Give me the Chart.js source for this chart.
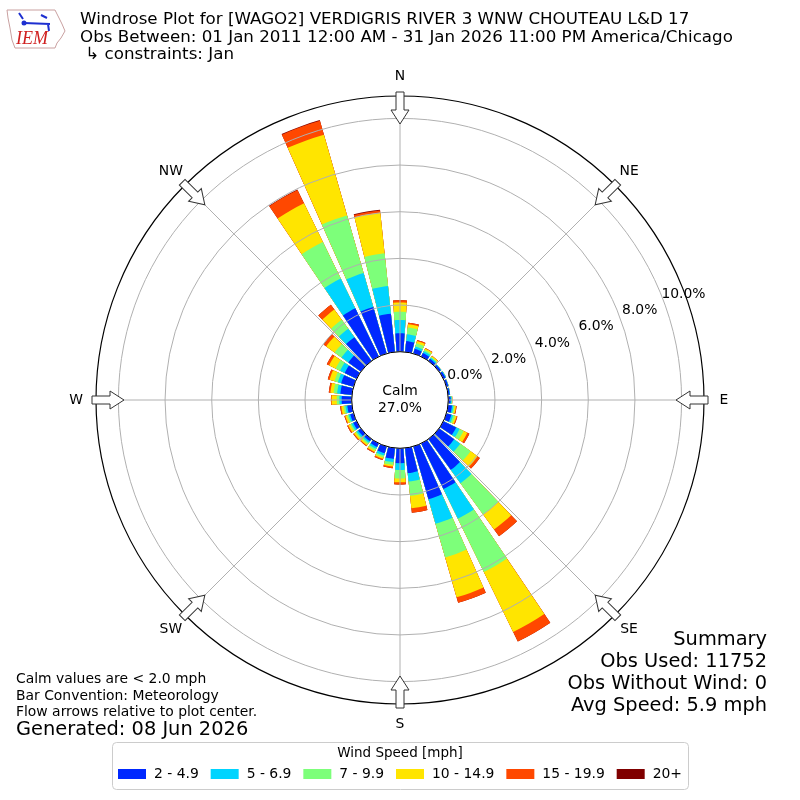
<!DOCTYPE html>
<html>
<head>
<meta charset="utf-8">
<title>Windrose WAGO2</title>
<script src="https://cdn.jsdelivr.net/npm/chart.js@4.4.1/dist/chart.umd.min.js"></script>
<style>
  body { margin: 0; background: #fff; }
  canvas { display: block; }
</style>
</head>
<body>
<canvas id="myChart" width="800" height="800"></canvas>
<script>
// bar directions, degrees from north (meteorology convention)
const directions = [0,10,20,30,40,50,60,70,80,90,100,110,120,130,140,150,160,170,
                    180,190,200,210,220,230,240,250,260,270,280,290,300,310,320,330,340,350];
const compassLabels = ['N','NE','E','SE','S','SW','W','NW'];
const speedBins = ['2 - 4.9','5 - 6.9','7 - 9.9','10 - 14.9','15 - 19.9','20+'];

// percent of observations per direction and speed bin
const speed2to5 = [0.79,0.47,0.21,0.17,0.11,0.09,0.10,0.08,0.07,0.10,0.17,0.22,0.61,0.80,1.63,2.18,2.35,1.08,
                   0.64,0.47,0.30,0.17,0.12,0.15,0.16,0.15,0.20,0.43,0.50,0.55,0.57,0.67,1.26,2.30,2.08,1.65];
const speed5to7 = [0.57,0.29,0.10,0.09,0.06,0.03,0.03,0.02,0.02,0.04,0.06,0.08,0.16,0.32,0.71,1.41,1.10,0.36,
                   0.29,0.14,0.10,0.09,0.08,0.08,0.08,0.07,0.08,0.10,0.14,0.15,0.22,0.36,0.44,1.42,1.51,1.19];
const speed7to10 = [0.35,0.29,0.15,0.07,0.04,0,0,0,0,0.02,0.05,0.08,0.19,0.55,1.65,2.54,1.50,0.62,
                    0.36,0.12,0.09,0.08,0.07,0.06,0.07,0.07,0.08,0.11,0.15,0.15,0.21,0.36,0.48,1.75,2.57,1.41];
const speed10to15 = [0.40,0.14,0.10,0.06,0.05,0,0,0,0,0.01,0.06,0.07,0.18,0.37,0.80,2.86,1.78,0.54,
                     0.17,0.07,0.06,0.07,0.07,0.08,0.09,0.08,0.10,0.22,0.14,0.22,0.31,0.45,0.54,1.84,3.60,1.75];
const speed15to20 = [0.10,0.07,0.05,0.02,0.01,0,0,0,0,0,0.03,0.04,0.10,0.12,0.36,0.46,0.24,0.19,
                     0.09,0.07,0.06,0.05,0.04,0.04,0.05,0.04,0.05,0.03,0.07,0.08,0.11,0.14,0.25,0.64,0.62,0.10];
const speed20up = [0,0,0,0,0,0,0,0,0,0,0,0,0,0,0,0,0,0,
                   0,0,0,0,0,0,0,0,0,0,0,0,0,0,0,0.02,0.03,0.03];

const ringTicks = [0,2,4,6,8,10];
const calmPct = 27.0;

const binColors = ['#0028ff','#00d4ff','#7dff7a','#ffe500','#ff4800','#800000'];
const rMin = -2.07;
const rMax = 10.96;

// each direction gets a wedge of 80% of its sector, north is split across the start
const step = 360 / directions.length;
const opening = 0.8;
let entryDir = [0];
let entryAngle = [step*opening/2];
for (let d = 1; d < directions.length; d++) {
    entryDir.push(-1, d);
    entryAngle.push(step*(1-opening), step*opening);
}
entryDir.push(-1, 0);
entryAngle.push(step*(1-opening), step*opening/2);

const bins = [speed2to5, speed5to7, speed7to10, speed10to15, speed15to20, speed20up];
let datasets = [];
let running = directions.map(() => 0);
for (let b = 0; b < bins.length; b++) {
    running = running.map((v, d) => v + bins[b][d]);
    const cum = running.slice();
    datasets.push({
        label: speedBins[b],
        data: entryDir.map(d => d < 0 ? rMin : cum[d]),
        backgroundColor: binColors[b],
        borderWidth: 0,
        angle: (c) => entryAngle[c.dataIndex]
    });
}

function txt(ctx, s, x, y, size, align, color, family, style){
    ctx.font = (style ? style + ' ' : '') + size + 'px ' + (family || '"DejaVu Sans"');
    ctx.textAlign = align || 'left';
    ctx.textBaseline = 'middle';
    ctx.fillStyle = color || '#000';
    ctx.fillText(s, x, y);
}

const decor = {
    id: 'decor',
    afterDraw(chart){
        const ctx = chart.ctx;
        const r = chart.scales.r;
        const R = r.drawingArea;
        const xc = r.xCenter, yc = r.yCenter;
        ctx.save();

        // calm circle
        const cr = r.getDistanceFromCenterForValue(0);
        ctx.beginPath();
        ctx.arc(xc, yc, cr, 0, Math.PI*2);
        ctx.fillStyle = '#fff';
        ctx.fill();
        ctx.lineWidth = 1;
        ctx.strokeStyle = '#000';
        ctx.stroke();
        txt(ctx, 'Calm', xc, yc - 9, 13.9, 'center');
        txt(ctx, calmPct.toFixed(1) + '%', xc, yc + 8, 13.9, 'center');

        // ring labels
        const a = (69.5 - 90) * Math.PI / 180;
        ringTicks.forEach(v => {
            const d = r.getDistanceFromCenterForValue(v) + 21;
            txt(ctx, v.toFixed(1) + '%', xc + d*Math.cos(a), yc + d*Math.sin(a), 13.9, 'center');
        });

        // flow arrows and compass labels
        compassLabels.forEach((lab, i) => {
            const p = r.getPointPosition(i, R);
            ctx.save();
            ctx.translate(xc, yc);
            ctx.rotate(p.angle);
            ctx.beginPath();
            ctx.moveTo(R + 4, -4);
            ctx.lineTo(R - 14, -4);
            ctx.lineTo(R - 14, -9);
            ctx.lineTo(R - 28, 0);
            ctx.lineTo(R - 14, 9);
            ctx.lineTo(R - 14, 4);
            ctx.lineTo(R + 4, 4);
            ctx.closePath();
            ctx.fillStyle = '#fff';
            ctx.fill();
            ctx.lineWidth = 1;
            ctx.strokeStyle = '#333';
            ctx.stroke();
            ctx.restore();
            const q = r.getPointPosition(i, R + 20);
            txt(ctx, lab, q.x, q.y, 13.9, 'center');
        });

        // header
        txt(ctx, 'Windrose Plot for [WAGO2] VERDIGRIS RIVER 3 WNW CHOUTEAU L&D 17', 80, 20, 16.7);
        txt(ctx, 'Obs Between: 01 Jan 2011 12:00 AM - 31 Jan 2026 11:00 PM America/Chicago', 80, 37.5, 16.7);
        txt(ctx, ' \u21B3 constraints: Jan', 80, 55, 16.7);

        // logo
        ctx.beginPath();
        ctx.moveTo(7, 10); ctx.lineTo(55, 10); ctx.lineTo(58, 16); ctx.lineTo(62, 24);
        ctx.lineTo(65, 31); ctx.lineTo(61, 38); ctx.lineTo(57, 43); ctx.lineTo(55, 48);
        ctx.lineTo(15, 48); ctx.lineTo(12, 40); ctx.lineTo(10, 28); ctx.lineTo(8, 18);
        ctx.closePath();
        ctx.lineWidth = 1;
        ctx.strokeStyle = '#c9a0a0';
        ctx.stroke();
        ctx.strokeStyle = '#1d2fd0';
        ctx.lineWidth = 2;
        ctx.beginPath();
        ctx.moveTo(24, 23); ctx.lineTo(50, 24);
        ctx.moveTo(19, 13); ctx.lineTo(23, 19);
        ctx.moveTo(41, 15); ctx.lineTo(47, 18);
        ctx.moveTo(48, 24); ctx.lineTo(49, 31);
        ctx.stroke();
        ctx.fillStyle = '#1d2fd0';
        ctx.beginPath(); ctx.arc(24, 23, 2.5, 0, Math.PI*2); ctx.fill();
        txt(ctx, 'IEM', 16, 39, 18, 'left', '#d02020', '"Liberation Serif"', 'italic');

        // notes
        txt(ctx, 'Calm values are < 2.0 mph', 16, 679, 13.9);
        txt(ctx, 'Bar Convention: Meteorology', 16, 696, 13.9);
        txt(ctx, 'Flow arrows relative to plot center.', 16, 712, 13.9);
        txt(ctx, 'Generated: 08 Jun 2026', 16, 730, 19.4);

        txt(ctx, 'Summary', 767, 640, 19.4, 'right');
        txt(ctx, 'Obs Used: 11752', 767, 662, 19.4, 'right');
        txt(ctx, 'Obs Without Wind: 0', 767, 684, 19.4, 'right');
        txt(ctx, 'Avg Speed: 5.9 mph', 767, 706, 19.4, 'right');

        // legend
        const lx = 112, ly = 742, lw = 576, lh = 47;
        ctx.beginPath();
        ctx.roundRect(lx + 0.5, ly + 0.5, lw, lh, 4);
        ctx.fillStyle = 'rgba(255,255,255,0.8)';
        ctx.fill();
        ctx.strokeStyle = '#cccccc';
        ctx.lineWidth = 1;
        ctx.stroke();
        txt(ctx, 'Wind Speed [mph]', lx + lw/2, ly + 11, 13.5, 'center');
        ctx.font = '13.9px "DejaVu Sans"';
        const ds = chart.data.datasets;
        const widths = ds.map(d => 28 + 8 + ctx.measureText(d.label).width);
        const total = widths.reduce((s, w) => s + w, 0);
        const gap = (lw - 12 - total) / (ds.length - 1);
        let x = lx + 6;
        ds.forEach((d, i) => {
            ctx.fillStyle = d.backgroundColor;
            ctx.fillRect(x, ly + 27, 28, 10);
            txt(ctx, d.label, x + 36, ly + 32.5, 13.9);
            x += widths[i] + gap;
        });
        ctx.restore();
    }
};

Chart.defaults.font.family = '"DejaVu Sans"';

const ctx = document.getElementById('myChart').getContext('2d');
const myChart = new Chart(ctx, {
    type: 'polarArea',
    data: { labels: compassLabels, datasets: datasets },
    options: {
        responsive: false,
        animation: false,
        layout: { padding: { top: 96, bottom: 96, left: 96, right: 96 } },
        plugins: { legend: { display: false }, tooltip: { enabled: false } },
        scales: {
            r: {
                min: rMin,
                max: rMax,
                startAngle: 0,
                afterBuildTicks: (scale) => {
                    scale.ticks = ringTicks.concat([rMax]).map(v => ({ value: v }));
                },
                ticks: { display: false },
                pointLabels: { display: false },
                angleLines: { display: true, color: '#b0b0b0', lineWidth: 1 },
                grid: {
                    z: 1,
                    circular: true,
                    color: (c) => (c.tick && c.tick.value === rMax) ? '#000' : '#b0b0b0',
                    lineWidth: (c) => (c.tick && c.tick.value === rMax) ? 1.2 : 1
                }
            }
        }
    },
    plugins: [decor]
});
</script>
</body>
</html>
